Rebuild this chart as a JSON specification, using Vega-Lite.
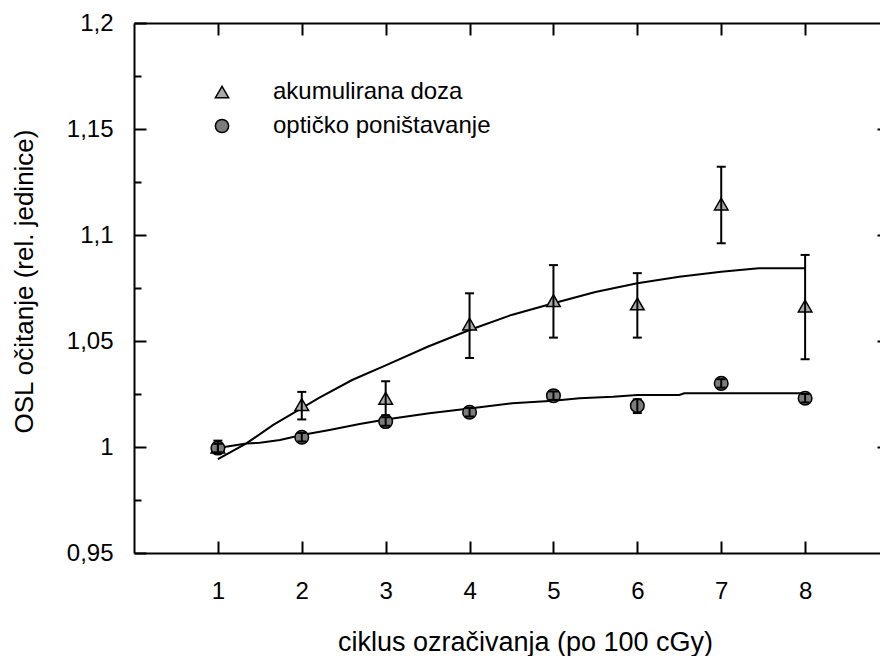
{
  "$schema": "https://vega.github.io/schema/vega-lite/v6.json",
  "autosize": {"type": "none"},
  "padding": {"left": 134, "top": 23, "right": 0, "bottom": 103},
  "width": 746,
  "height": 530,
  "background": "white",
  "config": {
    "view": {"stroke": null},
    "font": "Liberation Sans",
    "axis": {
      "labelFont": "Liberation Sans",
      "titleFont": "Liberation Sans",
      "labelColor": "black",
      "titleColor": "black",
      "domainColor": "black",
      "tickColor": "black",
      "domainWidth": 2,
      "tickWidth": 2,
      "grid": false,
      "labelFontSize": 24,
      "titleFontSize": 26,
      "titleFontWeight": "normal"
    },
    "legend": {"labelFont": "Liberation Sans", "symbolStrokeColor": "black", "symbolStrokeWidth": 1.5, "symbolOpacity": 1}
  },
  "datasets": {
    "pts": [
      {"c": 1, "v": 1.000, "lo": 0.997, "hi": 1.003, "s": "akumulirana doza"},
      {"c": 2, "v": 1.020, "lo": 1.013, "hi": 1.026, "s": "akumulirana doza"},
      {"c": 3, "v": 1.023, "lo": 1.015, "hi": 1.031, "s": "akumulirana doza"},
      {"c": 4, "v": 1.058, "lo": 1.042, "hi": 1.0725, "s": "akumulirana doza"},
      {"c": 5, "v": 1.069, "lo": 1.0516, "hi": 1.0858, "s": "akumulirana doza"},
      {"c": 6, "v": 1.0675, "lo": 1.0516, "hi": 1.082, "s": "akumulirana doza"},
      {"c": 7, "v": 1.1146, "lo": 1.0961, "hi": 1.1322, "s": "akumulirana doza"},
      {"c": 8, "v": 1.0665, "lo": 1.0414, "hi": 1.0906, "s": "akumulirana doza"},
      {"c": 1, "v": 0.9995, "lo": 0.9975, "hi": 1.0015, "s": "optičko poništavanje"},
      {"c": 2, "v": 1.0046, "lo": 1.0026, "hi": 1.0066, "s": "optičko poništavanje"},
      {"c": 3, "v": 1.012, "lo": 1.010, "hi": 1.014, "s": "optičko poništavanje"},
      {"c": 4, "v": 1.0164, "lo": 1.0144, "hi": 1.0184, "s": "optičko poništavanje"},
      {"c": 5, "v": 1.0242, "lo": 1.0222, "hi": 1.0262, "s": "optičko poništavanje"},
      {"c": 6, "v": 1.0195, "lo": 1.016, "hi": 1.0225, "s": "optičko poništavanje"},
      {"c": 7, "v": 1.030, "lo": 1.028, "hi": 1.032, "s": "optičko poništavanje"},
      {"c": 8, "v": 1.023, "lo": 1.021, "hi": 1.025, "s": "optičko poništavanje"}
    ],
    "fits": [
      {"c": 1.0, "v": 0.9943, "s": "a"},
      {"c": 1.34, "v": 1.0017, "s": "a"},
      {"c": 1.66, "v": 1.0104, "s": "a"},
      {"c": 2.0, "v": 1.0183, "s": "a"},
      {"c": 2.2, "v": 1.023, "s": "a"},
      {"c": 2.6, "v": 1.0316, "s": "a"},
      {"c": 3.0, "v": 1.0385, "s": "a"},
      {"c": 3.5, "v": 1.0473, "s": "a"},
      {"c": 4.0, "v": 1.0552, "s": "a"},
      {"c": 4.5, "v": 1.0623, "s": "a"},
      {"c": 5.0, "v": 1.0678, "s": "a"},
      {"c": 5.5, "v": 1.0731, "s": "a"},
      {"c": 6.0, "v": 1.0772, "s": "a"},
      {"c": 6.5, "v": 1.0803, "s": "a"},
      {"c": 7.0, "v": 1.0827, "s": "a"},
      {"c": 7.35, "v": 1.084, "s": "a"},
      {"c": 7.45, "v": 1.0843, "s": "a"},
      {"c": 8.0, "v": 1.0843, "s": "a"},
      {"c": 1.0, "v": 0.9995, "s": "b"},
      {"c": 1.34, "v": 1.0017, "s": "b"},
      {"c": 1.5, "v": 1.002, "s": "b"},
      {"c": 1.74, "v": 1.0033, "s": "b"},
      {"c": 2.0, "v": 1.0057, "s": "b"},
      {"c": 2.33, "v": 1.008, "s": "b"},
      {"c": 2.69, "v": 1.0108, "s": "b"},
      {"c": 3.0, "v": 1.013, "s": "b"},
      {"c": 3.52, "v": 1.0159, "s": "b"},
      {"c": 4.0, "v": 1.0182, "s": "b"},
      {"c": 4.51, "v": 1.0206, "s": "b"},
      {"c": 5.0, "v": 1.0218, "s": "b"},
      {"c": 5.31, "v": 1.023, "s": "b"},
      {"c": 5.71, "v": 1.0237, "s": "b"},
      {"c": 6.0, "v": 1.0245, "s": "b"},
      {"c": 6.5, "v": 1.0245, "s": "b"},
      {"c": 6.56, "v": 1.0253, "s": "b"},
      {"c": 8.0, "v": 1.0253, "s": "b"}
    ]
  },
  "resolve": {"axis": {"x": "independent", "y": "independent"}},
  "layer": [
    {
      "data": {"name": "fits"},
      "mark": {"type": "line", "color": "black", "strokeWidth": 2, "interpolate": "linear"},
      "encoding": {
        "x": {
          "field": "c", "type": "quantitative",
          "scale": {"domain": [0, 9], "range": [0, 755], "nice": false, "zero": false},
          "axis": {
            "orient": "bottom",
            "values": [1, 2, 3, 4, 5, 6, 7, 8],
            "tickSize": -12,
            "labelPadding": 38,
            "title": "ciklus ozračivanja (po 100 cGy)",
            "titleFontSize": 27,
            "titleX": 391,
            "titleY": 97,
            "titleBaseline": "alphabetic"
          }
        },
        "y": {
          "field": "v", "type": "quantitative",
          "scale": {"domain": [0.95, 1.2], "nice": false, "zero": false},
          "axis": {
            "orient": "left",
            "values": [0.95, 0.975, 1, 1.025, 1.05, 1.075, 1.1, 1.125, 1.15, 1.175, 1.2],
            "tickSize": {"condition": {"test": "round(datum.value*1000) % 50 == 0", "value": -12}, "value": -7},
            "labelPadding": 33,
            "labelExpr": "round(datum.value*1000) % 50 == 0 ? replace(format(datum.value, '~g'), '.', ',') : ''",
            "title": "OSL očitanje (rel. jedinice)",
            "titleX": -102,
            "titleY": 258,
            "titleBaseline": "alphabetic"
          }
        },
        "detail": {"field": "s"}
      }
    },
    {
      "data": {"name": "pts"},
      "mark": {"type": "point", "filled": true, "stroke": "black", "strokeWidth": 1.5, "opacity": 1, "size": 185},
      "encoding": {
        "x": {
          "field": "c", "type": "quantitative",
          "axis": {
            "orient": "top",
            "values": [1, 2, 3, 4, 5, 6, 7, 8],
            "tickSize": -12,
            "labels": false,
            "title": null
          }
        },
        "y": {
          "field": "v", "type": "quantitative",
          "axis": {
            "orient": "right",
            "domain": false,
            "values": [1, 1.05, 1.1, 1.15],
            "tickSize": -3,
            "labels": false,
            "title": null
          }
        },
        "shape": {
          "field": "s", "type": "nominal",
          "scale": {"domain": ["akumulirana doza", "optičko poništavanje"], "range": ["triangle-up", "circle"]},
          "legend": {
            "title": null,
            "orient": "none",
            "legendX": 76,
            "legendY": 57,
            "padding": 0,
            "labelFontSize": 24,
            "labelColor": "black",
            "labelLimit": 600,
            "labelOffset": 39,
            "rowPadding": 10,
            "symbolSize": 175,
            "encode": {"symbols": {"enter": {"stroke": {"value": "black"}, "strokeWidth": {"value": 1.5}}, "update": {"stroke": {"value": "black"}, "strokeWidth": {"value": 1.5}, "opacity": {"value": 1}}}}
          }
        },
        "fill": {
          "field": "s", "type": "nominal",
          "scale": {"domain": ["akumulirana doza", "optičko poništavanje"], "range": ["#aaaaaa", "#7c7c7c"]},
          "legend": {
            "title": null,
            "orient": "none",
            "legendX": 76,
            "legendY": 57,
            "padding": 0,
            "labelFontSize": 24,
            "labelColor": "black",
            "labelLimit": 600,
            "labelOffset": 39,
            "rowPadding": 10,
            "symbolSize": 175,
            "encode": {"symbols": {"enter": {"stroke": {"value": "black"}, "strokeWidth": {"value": 1.5}}, "update": {"stroke": {"value": "black"}, "strokeWidth": {"value": 1.5}, "opacity": {"value": 1}}}}
          }
        }
      }
    },
    {
      "data": {"name": "pts"},
      "mark": {"type": "rule", "color": "black", "strokeWidth": 2},
      "encoding": {
        "x": {"field": "c", "type": "quantitative", "axis": null},
        "y": {"field": "lo", "type": "quantitative", "axis": null},
        "y2": {"field": "hi"}
      }
    },
    {
      "data": {"name": "pts"},
      "mark": {"type": "tick", "orient": "horizontal", "color": "black", "size": 9, "thickness": 2, "opacity": 1},
      "encoding": {
        "x": {"field": "c", "type": "quantitative", "axis": null},
        "y": {"field": "lo", "type": "quantitative", "axis": null}
      }
    },
    {
      "data": {"name": "pts"},
      "mark": {"type": "tick", "orient": "horizontal", "color": "black", "size": 9, "thickness": 2, "opacity": 1},
      "encoding": {
        "x": {"field": "c", "type": "quantitative", "axis": null},
        "y": {"field": "hi", "type": "quantitative", "axis": null}
      }
    }
  ]
}
